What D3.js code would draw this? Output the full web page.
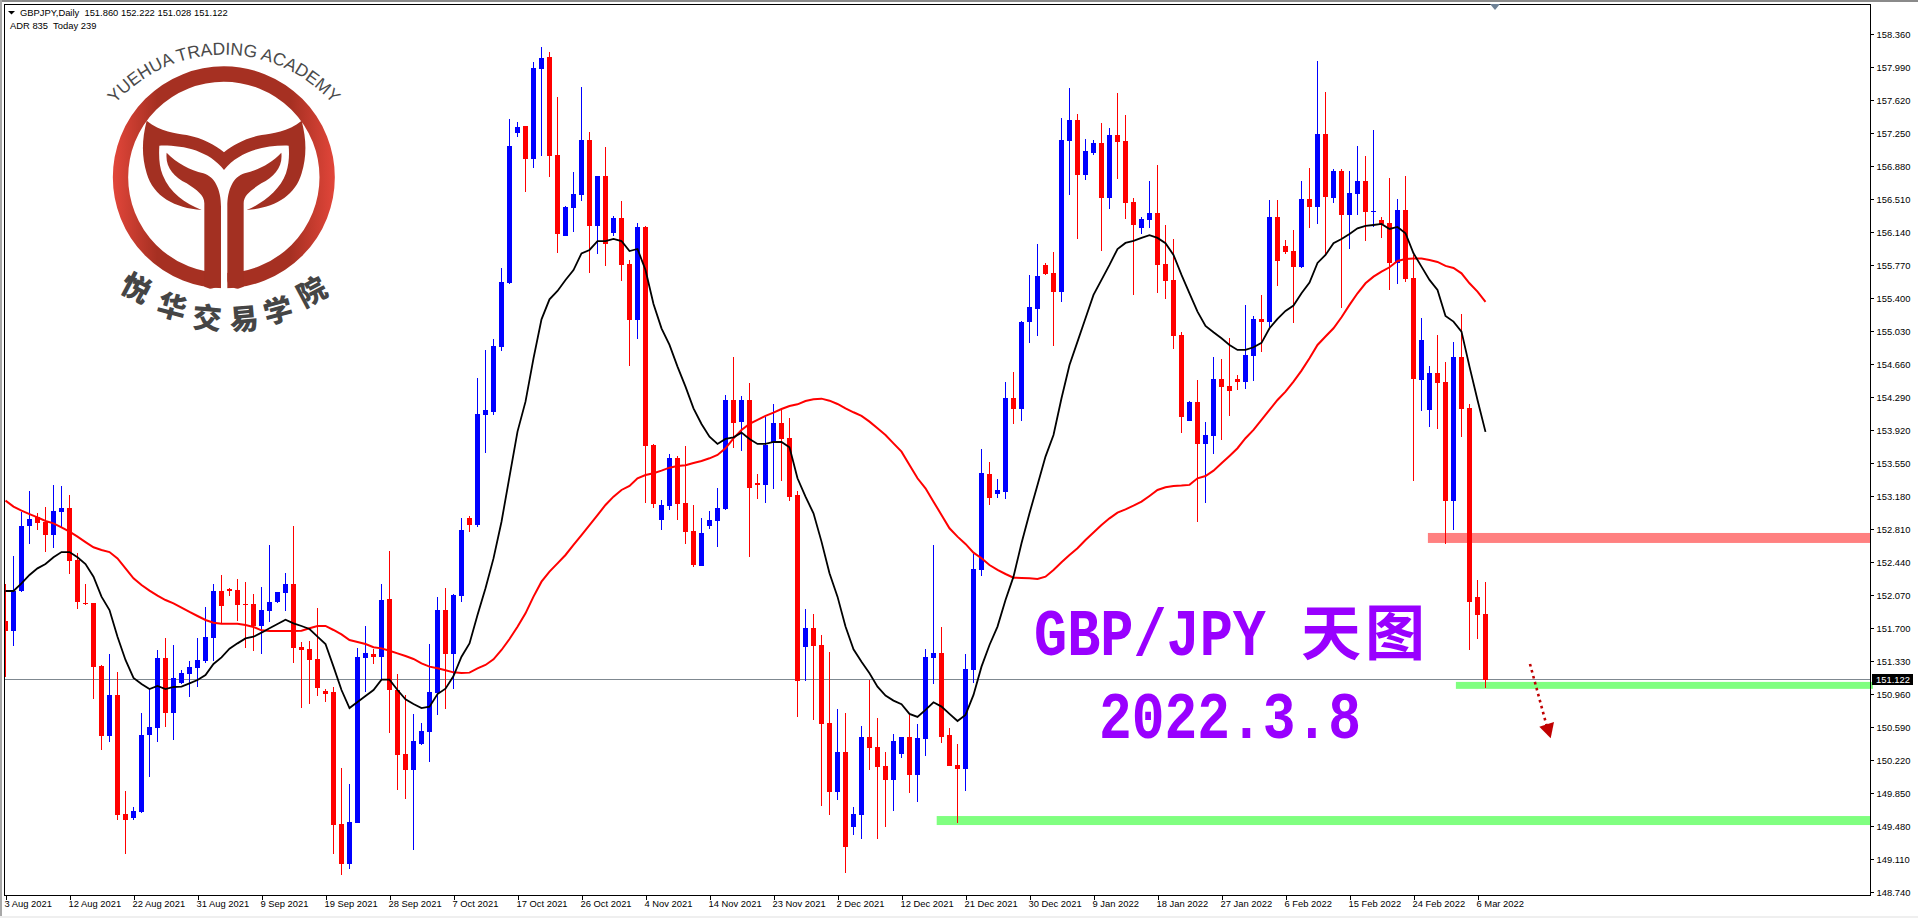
<!DOCTYPE html>
<html><head><meta charset="utf-8">
<style>
html,body{margin:0;padding:0;background:#fff;overflow:hidden}
svg{display:block}
text{font-family:"Liberation Sans",Arial,sans-serif}
.tick text{font-size:9.4px;fill:#000;font-family:"Liberation Sans",Arial,sans-serif}
</style>
<script src="https://cdnjs.cloudflare.com/ajax/libs/d3/7.8.5/d3.min.js"></script>
</head><body>
<svg id="c" width="1918" height="918"></svg>
<script>
const opens=[151.778,151.670,152.118,152.847,152.944,152.895,152.746,153.004,153.049,152.466,
151.980,151.984,151.277,150.493,150.952,149.618,149.573,149.641,150.504,150.582,
151.367,150.750,151.087,151.188,151.255,151.333,151.591,152.118,152.141,152.129,
151.972,151.972,151.726,151.894,151.995,152.096,152.197,151.490,151.468,151.356,
150.997,150.986,149.506,149.058,149.517,151.367,151.412,151.378,152.028,151.008,
150.291,150.111,150.403,150.537,150.975,151.905,151.412,152.062,152.937,152.858,
154.092,154.125,154.854,155.572,157.253,157.332,156.962,157.971,158.105,157.007,
156.099,156.412,156.558,157.175,156.211,156.771,156.132,156.300,155.785,155.157,
156.199,153.755,152.915,153.072,153.610,153.105,152.791,152.403,152.847,152.903,
153.038,154.260,154.013,154.260,153.329,153.307,153.789,154.002,153.834,153.195,
151.491,151.704,151.513,150.639,149.865,150.314,149.473,149.607,150.482,150.370,
150.157,150.000,150.291,150.482,150.056,150.460,151.368,151.424,150.504,150.168,
150.123,151.233,152.354,153.430,153.206,153.229,154.283,154.160,155.135,155.281,
155.774,155.684,155.471,157.164,157.400,156.783,157.030,157.142,156.525,157.231,
157.164,156.480,156.189,156.278,156.357,155.785,155.606,154.989,154.025,154.238,
153.767,153.857,154.496,154.417,154.496,154.462,154.754,155.169,155.135,156.312,
155.987,155.931,155.752,156.514,156.424,157.243,156.525,156.828,156.335,156.570,
156.716,156.368,156.278,156.245,155.796,156.391,155.628,154.485,154.148,154.563,
154.462,153.128,154.743,154.170,152.051,151.860];
const highs=[152.197,152.511,153.008,153.239,152.989,153.060,153.307,153.295,153.194,152.544,
152.197,151.984,151.289,151.412,151.210,149.876,149.697,150.750,151.019,151.457,
151.591,151.513,151.232,151.333,151.591,151.939,152.197,152.298,152.152,152.253,
152.219,152.085,152.163,152.634,152.107,152.320,152.847,151.546,151.558,151.928,
151.019,151.042,150.134,149.954,151.479,151.726,151.468,152.197,152.567,151.188,
150.952,150.739,150.638,151.524,152.051,152.152,152.085,152.937,152.959,154.507,
154.820,154.944,155.740,157.410,157.377,157.332,158.049,158.217,158.161,157.657,
156.435,156.816,157.769,157.264,156.771,157.096,156.323,156.491,155.829,156.244,
156.211,153.767,153.139,153.655,153.632,153.744,153.083,152.937,153.016,153.273,
154.316,154.742,154.305,154.451,153.430,154.073,154.215,154.148,154.058,153.240,
151.917,151.861,151.625,151.435,150.796,150.751,149.697,150.605,151.121,150.695,
150.314,150.516,150.482,150.729,150.628,151.468,152.634,151.715,150.583,150.403,
151.412,152.534,153.711,153.565,153.374,154.462,154.574,155.146,155.662,156.009,
155.796,155.920,157.422,157.758,157.467,157.187,157.175,157.366,157.310,157.702,
157.456,156.525,156.312,156.716,156.895,156.222,156.065,155.023,154.249,154.485,
154.014,154.743,154.720,154.956,154.541,155.326,155.202,155.438,156.503,156.503,
156.054,156.166,156.716,156.861,158.061,157.713,156.850,156.850,156.828,157.108,
156.996,157.287,156.312,156.749,156.514,156.772,155.886,155.180,154.642,154.989,
154.687,154.911,155.225,154.215,152.242,152.222];
const lows=[151.158,151.502,152.107,152.645,152.802,152.555,152.600,152.824,152.309,151.916,
151.961,150.907,150.336,150.425,149.551,149.170,149.551,149.629,150.033,150.425,
150.593,150.448,151.076,150.930,151.042,151.311,151.333,151.759,152.062,151.782,
151.479,151.445,151.412,151.771,151.984,151.894,151.311,150.806,150.851,150.941,
150.874,149.170,148.934,149.001,149.517,150.986,151.300,151.120,150.526,149.887,
149.786,149.214,150.392,150.201,150.728,150.795,151.019,151.995,152.780,152.836,
153.666,154.092,154.809,155.560,157.208,156.592,156.861,156.995,156.760,155.908,
156.099,156.143,156.491,155.684,155.897,155.762,156.099,155.594,154.641,154.944,
153.105,153.049,152.802,153.027,152.915,152.646,152.388,152.403,152.814,152.612,
153.027,153.722,153.688,152.500,153.150,153.105,153.262,153.352,153.128,150.706,
151.110,150.672,149.708,149.607,149.776,148.957,149.383,149.338,150.112,149.338,
149.473,149.652,150.246,149.854,149.753,150.269,151.076,150.415,150.157,149.518,
149.876,151.087,152.287,153.083,153.161,153.151,153.991,154.025,154.900,154.978,
155.662,154.866,155.359,156.559,156.065,156.727,157.007,155.931,156.402,156.738,
156.290,155.438,156.122,156.189,155.460,155.393,154.832,153.891,154.025,152.893,
153.106,153.655,153.812,154.081,154.373,154.384,154.473,154.799,155.079,155.539,
155.897,155.124,155.740,156.189,156.234,155.886,156.469,155.292,155.953,156.335,
156.043,156.200,156.077,155.494,155.561,155.583,153.352,154.137,153.958,153.935,
152.646,152.803,153.846,151.457,151.581,151.028];
const closes=[151.670,152.118,152.847,152.925,152.880,152.746,153.015,153.049,152.454,151.995,
151.972,151.266,150.493,150.952,149.607,149.551,149.652,150.504,150.593,151.367,
150.750,151.143,151.199,151.266,151.345,151.602,152.118,151.950,152.118,151.961,
151.961,151.726,151.905,151.995,152.107,152.197,151.479,151.457,151.345,151.031,
150.963,149.495,149.058,149.528,151.378,151.423,151.378,152.017,151.008,150.280,
150.111,150.436,150.549,150.986,151.905,151.412,152.073,152.802,152.858,154.103,
154.148,154.865,155.583,157.108,157.321,156.962,157.982,158.094,156.995,156.121,
156.424,156.569,157.175,156.211,156.771,156.009,156.300,155.773,155.157,156.199,
153.744,153.094,153.083,153.610,153.094,152.780,152.410,152.769,152.915,153.049,
154.260,154.002,154.260,153.273,153.307,153.756,154.002,153.823,153.173,151.110,
151.704,151.502,150.628,149.865,150.314,149.249,149.619,150.482,150.359,150.146,
150.000,150.437,150.482,150.056,150.471,151.379,151.424,150.482,150.157,150.123,
151.244,152.365,153.442,153.161,153.251,154.283,154.160,155.135,155.303,155.651,
155.673,155.471,157.175,157.400,156.783,157.052,157.142,156.525,157.231,157.153,
156.469,156.222,156.290,156.357,155.774,155.595,154.978,154.070,154.238,153.767,
153.868,154.496,154.406,154.361,154.462,154.765,155.169,155.135,156.312,155.819,
155.920,155.752,156.514,156.424,157.243,156.536,156.828,156.335,156.581,156.716,
156.368,156.379,156.234,155.796,156.391,155.617,154.496,154.933,154.563,154.451,
153.128,154.743,154.160,151.995,151.850,151.122];
const maBlack=[152.118,152.118,152.204,152.298,152.372,152.421,152.496,152.555,152.555,152.496,
152.421,152.279,152.055,151.905,151.606,151.345,151.143,151.076,151.019,151.053,
151.019,151.042,151.046,151.083,151.120,151.176,151.300,151.374,151.472,151.531,
151.587,151.606,151.651,151.700,151.748,151.797,151.756,151.726,151.692,151.606,
151.524,151.270,151.008,150.806,150.874,150.941,151.008,151.124,151.124,151.008,
150.904,150.851,150.806,150.821,150.963,151.023,151.165,151.382,151.531,151.849,
152.148,152.484,152.895,153.400,153.905,154.241,154.727,155.164,155.388,155.482,
155.605,155.717,155.904,155.942,156.042,156.042,156.065,156.042,155.930,155.953,
155.717,155.336,155.063,154.877,154.634,154.409,154.166,153.991,153.849,153.767,
153.823,153.841,153.894,153.823,153.767,153.767,153.789,153.789,153.729,153.382,
153.176,152.989,152.672,152.317,152.055,151.719,151.465,151.326,151.196,151.046,
150.945,150.889,150.848,150.740,150.706,150.785,150.871,150.822,150.740,150.661,
150.729,150.953,151.270,151.513,151.719,152.018,152.279,152.653,152.990,153.308,
153.625,153.868,154.279,154.653,154.914,155.176,155.438,155.606,155.774,155.953,
156.021,156.043,156.077,156.107,156.077,156.017,155.886,155.662,155.456,155.251,
155.090,155.019,154.952,154.877,154.821,154.821,154.851,154.900,155.064,155.169,
155.258,155.318,155.456,155.576,155.796,155.886,156.017,156.065,156.122,156.185,
156.211,156.222,156.234,156.178,156.200,156.129,155.905,155.755,155.606,155.494,
155.202,155.139,155.027,154.634,154.260,153.902];
const maRed=[153.131,153.064,153.019,152.981,152.944,152.903,152.877,152.832,152.783,152.727,
152.667,152.608,152.578,152.555,152.484,152.372,152.260,152.185,152.122,152.066,
152.017,151.980,151.931,151.883,151.838,151.793,151.763,151.752,151.752,151.752,
151.737,151.715,151.677,151.670,151.670,151.670,151.670,151.673,151.700,151.726,
151.726,151.681,151.632,151.569,151.546,151.524,151.487,151.475,151.449,151.419,
151.389,151.356,151.307,151.270,151.251,151.229,151.206,151.199,151.203,151.251,
151.289,151.352,151.457,151.580,151.718,151.868,152.055,152.223,152.335,152.428,
152.522,152.634,152.746,152.858,152.970,153.083,153.176,153.251,153.296,153.382,
153.419,153.438,153.468,153.501,153.520,153.528,153.554,153.576,153.606,153.643,
153.718,153.830,153.924,153.991,154.036,154.081,154.118,154.159,154.193,154.211,
154.249,154.267,154.275,154.252,154.215,154.166,154.122,154.081,154.017,153.942,
153.868,153.774,153.681,153.531,153.382,153.270,153.120,152.971,152.821,152.728,
152.646,152.548,152.485,152.410,152.354,152.309,152.268,152.264,152.261,152.253,
152.279,152.354,152.440,152.522,152.597,152.690,152.773,152.859,152.933,152.997,
153.034,153.075,153.120,153.184,153.251,153.281,153.296,153.300,153.308,153.382,
153.408,153.468,153.550,153.633,153.719,153.831,153.924,154.036,154.148,154.260,
154.354,154.466,154.589,154.728,154.877,154.971,155.064,155.187,155.326,155.456,
155.568,155.643,155.699,155.748,155.819,155.841,155.845,155.845,155.830,155.808,
155.763,155.740,155.680,155.568,155.475,155.359];
const dateLabels=["3 Aug 2021","12 Aug 2021","22 Aug 2021","31 Aug 2021","9 Sep 2021","19 Sep 2021","28 Sep 2021","7 Oct 2021","17 Oct 2021","26 Oct 2021","4 Nov 2021","14 Nov 2021","23 Nov 2021","2 Dec 2021","12 Dec 2021","21 Dec 2021","30 Dec 2021","9 Jan 2022","18 Jan 2022","27 Jan 2022","6 Feb 2022","15 Feb 2022","24 Feb 2022","6 Mar 2022"];
const priceTicks=[148.74,149.11,149.48,149.85,150.22,150.59,150.96,151.33,151.70,152.07,152.44,152.81,153.18,153.55,153.92,154.29,154.66,155.03,155.40,155.77,156.14,156.51,156.88,157.25,157.62,157.99,158.36];
const lastPrice=151.122;
const headerText=["GBPJPY,Daily  151.860 152.222 151.028 151.122","ADR 835  Today 239"];
const titleLatin="GBP/JPY", titleCjk=["天","图"], titleDate="2022.3.8";
const zones=[{from:177.8,top:152.769,bottom:152.657,fill:"#FF8080"},{from:181.3,top:151.099,bottom:151.021,fill:"#80FF80"},{from:116.4,top:149.595,bottom:149.494,fill:"#80FF80"}];
const logoCjk=["悦","华","交","易","学","院"];
const logoCjkPlace=[[136,288,28],[172,307,15],[207,318,5],[244,319,-5],[278,311,-15],[312,292,-28]];

const W=1918,H=918,L=5,R=1870,T=4,B=895;
const svg=d3.select("#c");
const x=d3.scaleLinear().domain([0,185]).range([5.5,1485.5]);
const y=d3.scaleLinear().domain([148.74,158.36]).range([892.3,34.3]);
const bars=d3.range(opens.length).map(i=>({i,o:opens[i],h:highs[i],l:lows[i],c:closes[i]}));

// window edges
svg.append("rect").attr("width",W).attr("height",H).attr("fill","#fff");
svg.append("rect").attr("width",W).attr("height",2).attr("fill","#8a8a8a");
svg.append("rect").attr("width",2).attr("height",H).attr("fill","#a8a8a8");
svg.append("rect").attr("y",916).attr("width",W).attr("height",2).attr("fill","#efefef");

const defs=svg.append("defs");
defs.append("clipPath").attr("id","pl").append("rect").attr("x",L).attr("y",T).attr("width",R-L).attr("height",B-T);
const g=defs.append("linearGradient").attr("id","lg").attr("gradientUnits","userSpaceOnUse").attr("x1",338).attr("x2",1005).attr("y1",0).attr("y2",0);
[[0,"#E2463A"],[.2,"#A63022"],[.8,"#A63022"],[1,"#E2463A"]].forEach(s=>g.append("stop").attr("offset",s[0]).attr("stop-color",s[1]));

const plot=svg.append("g").attr("clip-path","url(#pl)");
// current price line
plot.append("line").attr("x1",L).attr("x2",R).attr("y1",y(lastPrice)).attr("y2",y(lastPrice)).attr("stroke","#7f8890").attr("stroke-width",1).attr("shape-rendering","crispEdges");
// zones
svg.selectAll("rect.z").data(zones).enter().append("rect").attr("class","z")
  .attr("x",d=>x(d.from)).attr("y",d=>y(d.top)).attr("width",d=>(d.from>180?1873:R)-x(d.from)).attr("height",d=>y(d.bottom)-y(d.top)).attr("fill",d=>d.fill);

const col=d=>d.c>=d.o?"#0000FF":"#FF0000";
const plot2=svg.append("g").attr("clip-path","url(#pl)");
plot2.selectAll("rect.w").data(bars).enter().append("rect").attr("class","w")
 .attr("x",d=>x(d.i)-.5).attr("width",1).attr("y",d=>y(d.h)).attr("height",d=>Math.max(1,y(d.l)-y(d.h))).attr("fill",col).attr("shape-rendering","crispEdges");
plot2.selectAll("rect.b").data(bars).enter().append("rect").attr("class","b")
 .attr("x",d=>x(d.i)-2.5).attr("width",5).attr("y",d=>y(Math.max(d.o,d.c))).attr("height",d=>Math.max(1,Math.abs(y(d.o)-y(d.c)))).attr("fill",col).attr("shape-rendering","crispEdges");
const lineOf=d3.line().x((d,i)=>x(i)).y(d=>y(d));
plot2.append("path").attr("d",lineOf(maRed)).attr("fill","none").attr("stroke","#FF0000").attr("stroke-width",2);
plot2.append("path").attr("d",lineOf(maBlack)).attr("fill","none").attr("stroke","#000").attr("stroke-width",1.8);

// frame
svg.append("rect").attr("x",4.5).attr("y",4.5).attr("width",R-4).attr("height",B-4).attr("fill","none").attr("stroke","#000");
svg.append("path").attr("d","M1490,4L1500,4L1495,10Z").attr("fill","#6f8296");

// axes
const ay=svg.append("g").attr("transform",`translate(${R+.5},0)`)
 .call(d3.axisRight(y).tickValues(priceTicks).tickSize(3).tickPadding(3).tickFormat(d3.format(".3f")));
ay.select(".domain").remove();
ay.selectAll("line").attr("shape-rendering","crispEdges");
const ax=svg.append("g").attr("transform",`translate(0,${B+.5})`)
 .call(d3.axisBottom(x).tickValues(dateLabels.map((d,i)=>i*8)).tickSize(4).tickPadding(1).tickFormat(i=>dateLabels[i/8]));
ax.select(".domain").remove();
ax.selectAll("line").attr("shape-rendering","crispEdges");
ax.selectAll("text").attr("text-anchor","start").attr("dx","-1.5");

// last price tag
svg.append("rect").attr("x",1872).attr("y",674).attr("width",41).attr("height",11).attr("fill","#000");
svg.append("text").attr("x",1876).attr("y",y(lastPrice)+3.3).attr("fill","#fff").attr("font-size",9.4).text(d3.format(".3f")(lastPrice));

// header
svg.append("path").attr("d","M8,11L15,11L11.5,14.5Z").attr("fill","#000");
svg.append("text").attr("x",20).attr("y",16).attr("font-size",9.4).style("white-space","pre").text(headerText[0]);
svg.append("text").attr("x",10).attr("y",29).attr("font-size",9.4).style("white-space","pre").text(headerText[1]);

// titles
svg.append("text").attr("x",1034).attr("y",655).attr("font-size",67).attr("font-weight",700).attr("textLength",232).attr("lengthAdjust","spacingAndGlyphs").attr("fill","#9900FF").style("font-family","'Liberation Mono',monospace").text(titleLatin);
svg.selectAll("text.cj").data(titleCjk).enter().append("text").attr("class","cj").attr("x",(d,i)=>1331+i*64).attr("y",655).attr("text-anchor","middle").attr("font-size",60).attr("font-weight",700).attr("fill","#9900FF").style("font-family","'Noto Sans CJK SC'").text(d=>d);
svg.append("text").attr("x",1099).attr("y",738).attr("font-size",66).attr("font-weight",700).attr("textLength",262).attr("lengthAdjust","spacingAndGlyphs").attr("fill","#9900FF").style("font-family","'Liberation Mono',monospace").text(titleDate);

// dotted arrow
svg.append("line").attr("x1",1530).attr("y1",664).attr("x2",1547).attr("y2",727).attr("stroke","#C00000").attr("stroke-width",2.6).attr("stroke-dasharray","2.6 3.6");
svg.append("path").attr("d","M1539.3,726.7L1554,722L1550.7,738.3Z").attr("fill","#C00000");

// logo
const lg=svg.append("g").attr("transform","scale(0.33333)");
lg.append("circle").attr("cx",671.5).attr("cy",532).attr("r",310).attr("fill","none").attr("stroke","url(#lg)").attr("stroke-width",46);
lg.append("rect").attr("x",663).attr("y",790).attr("width",19).attr("height",85).attr("fill","#fff");
const tail="M440,362 C480,395 530,400 560,405 C610,415 645,435 672,457 C700,435 735,415 785,405 C815,400 865,395 905,362 C920,420 920,470 905,520 C885,590 820,625 740,630 C790,610 840,570 858,520 C868,490 868,460 866,437 C800,435 720,450 672,510 C625,450 545,435 478,437 C476,470 478,500 488,525 C510,580 555,610 605,630 C525,625 460,590 440,520 C425,470 425,420 440,362 Z";
const leafL="M500,458 C530,490 570,510 610,520 C645,530 663,570 663,620 L663,840 C663,855 645,866 630,866 L613,860 L613,610 C613,585 590,570 560,550 C520,530 495,500 500,458 Z";
const leafR="M844,458 C814,490 774,510 734,520 C699,530 682,570 682,620 L682,840 C682,855 699,866 714,866 L731,860 L731,610 C731,585 754,570 784,550 C824,530 849,500 844,458 Z";
[tail,leafL,leafR].forEach(p=>lg.append("path").attr("d",p).attr("fill","#A33022"));
defs.append("path").attr("id","arc").attr("d","M98,128 A145,145 0 0 1 350,128");
svg.append("text").attr("font-size",17.5).attr("fill","#4a4a4a").append("textPath").attr("href","#arc").attr("startOffset","50%").attr("text-anchor","middle").text("YUEHUA TRADING ACADEMY");
svg.selectAll("text.lc").data(logoCjk).enter().append("text").attr("class","lc")
 .attr("text-anchor","middle").attr("dy",".36em").attr("font-size",29).attr("font-weight",900).attr("fill","#454545").style("font-family","'Noto Sans CJK SC'")
 .attr("transform",(d,i)=>`translate(${logoCjkPlace[i][0]},${logoCjkPlace[i][1]}) rotate(${logoCjkPlace[i][2]})`).text(d=>d);
</script>
</body></html>
